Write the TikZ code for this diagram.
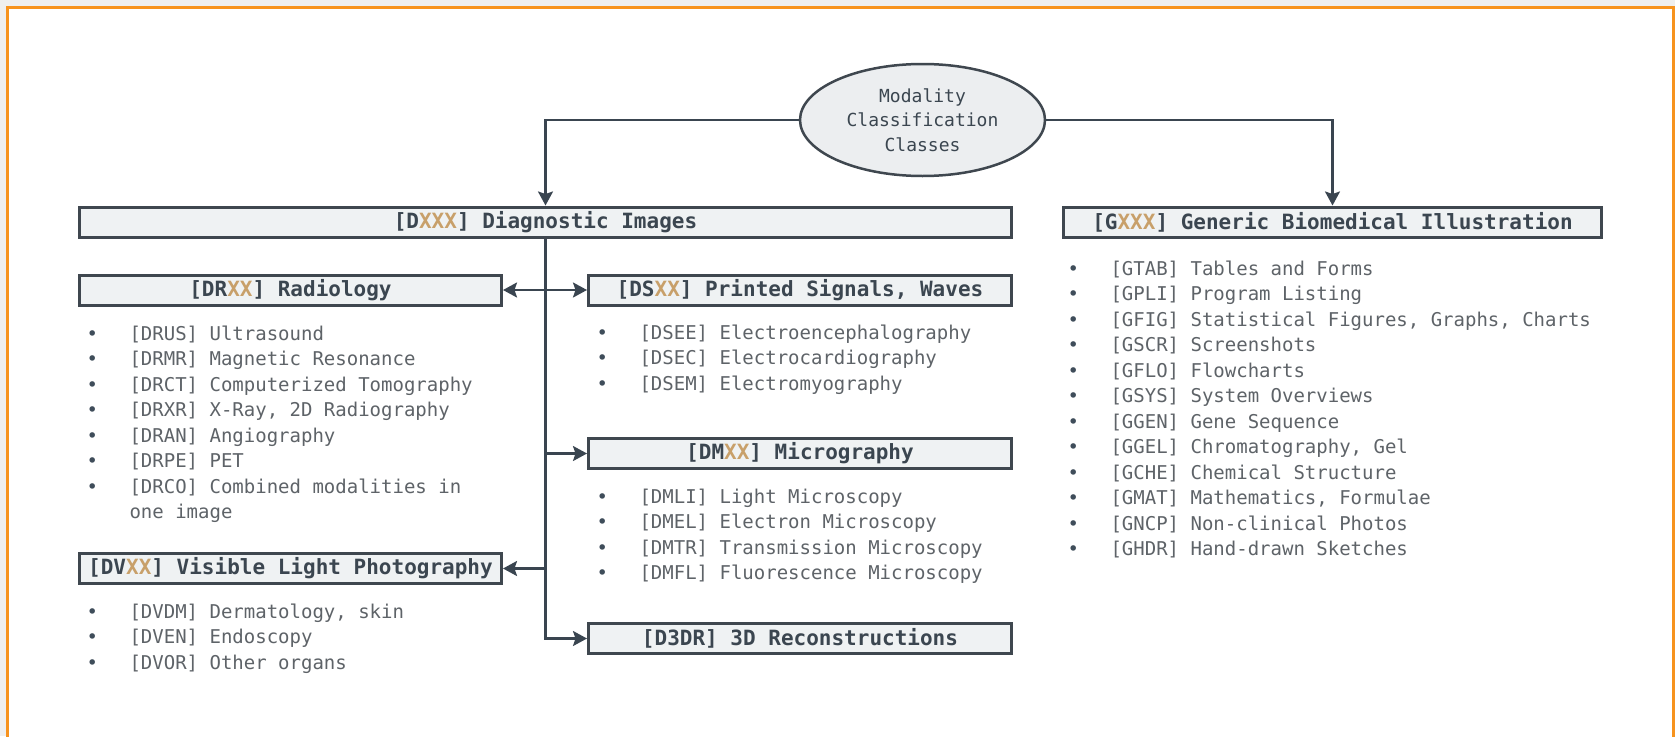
\documentclass[tikz,border=0pt]{standalone}
\usepackage{fontspec}
\setmainfont{DejaVu Sans Mono}
\usepackage{xcolor}
\usepackage{tikz}
\usetikzlibrary{arrows.meta,shapes.geometric}
\definecolor{outside}{HTML}{EFEFEF}
\definecolor{framecol}{HTML}{F7931E}
\definecolor{boxfill}{HTML}{EFF2F3}
\definecolor{boxline}{HTML}{3F474F}
\definecolor{linecol}{HTML}{3A4550}
\definecolor{headtext}{HTML}{3B4650}
\definecolor{xxcol}{HTML}{C8A06A}
\definecolor{itemtext}{HTML}{5E6368}
\definecolor{bul}{HTML}{3F4D5A}
\definecolor{rootfill}{HTML}{ECEEF0}
\newcommand{\xx}[1]{\textcolor{xxcol}{#1}}
\newcommand{\itm}[1]{\strut\makebox[43pt][l]{\textcolor{bul}{\textbullet}}#1}
\tikzset{
  >={Stealth[length=14pt,width=15pt,inset=2.5pt]},
  frame/.style={draw=framecol, line width=3pt, fill=white},
  root/.style={ellipse, draw=boxline, fill=rootfill, line width=2.5pt,
    minimum width=245pt, minimum height=112pt, inner sep=0pt, align=center,
    text=headtext, font=\fontsize{18}{24.6}\selectfont},
  headbox/.style={draw=boxline, fill=boxfill, line width=3pt,
    minimum height=30pt, inner sep=0pt, text=headtext,
    font=\fontsize{21}{25}\selectfont\bfseries},
  itemlist/.style={anchor=north west, align=left, inner sep=0pt,
    text=itemtext, font=\fontsize{19}{25.5}\selectfont},
  link/.style={draw=linecol, line width=2.2pt, ->}
}
\begin{document}
\begin{tikzpicture}[x=1pt,y=-1pt]
  \useasboundingbox (0,0) rectangle (1675,736);
  \fill[outside] (0,0) rectangle (1675,736);
  \draw[frame] (7.5,7.5) rectangle (1673.5,745);

  \node[root] (mcc) at (922.5,120) {Modality\\Classification\\Classes};

  \node[headbox, minimum width=932pt] (diag) at (545.5,222) {[D\xx{XXX}] Diagnostic Images};
  \node[headbox, minimum width=538pt] (gen) at (1332.5,222) {[G\xx{XXX}] Generic Biomedical Illustration};
  \node[headbox, minimum width=422pt] (rad) at (290.5,290) {[DR\xx{XX}] Radiology};
  \node[headbox, minimum width=423pt] (ds) at (800,290) {[DS\xx{XX}] Printed Signals, Waves};
  \node[headbox, minimum width=423pt] (dm) at (800,453.5) {[DM\xx{XX}] Micrography};
  \node[headbox, minimum width=422pt] (dv) at (290.5,568.5) {[DV\xx{XX}] Visible Light Photography};
  \node[headbox, minimum width=423pt] (d3d) at (800,638.5) {[D3DR] 3D Reconstructions};

  % item lists
  \node[itemlist] (radlist) at (86.3,322) {\itm{[DRUS] Ultrasound}\\
    \itm{[DRMR] Magnetic Resonance}\\
    \itm{[DRCT] Computerized Tomography}\\
    \itm{[DRXR] X-Ray, 2D Radiography}\\
    \itm{[DRAN] Angiography}\\
    \itm{[DRPE] PET}\\
    \itm{[DRCO] Combined modalities in}\\
    \strut\hspace*{43pt}one image};
  \node[itemlist] (dslist) at (596.3,321) {\itm{[DSEE] Electroencephalography}\\
    \itm{[DSEC] Electrocardiography}\\
    \itm{[DSEM] Electromyography}};
  \node[itemlist] (dmlist) at (596.3,485) {\itm{[DMLI] Light Microscopy}\\
    \itm{[DMEL] Electron Microscopy}\\
    \itm{[DMTR] Transmission Microscopy}\\
    \itm{[DMFL] Fluorescence Microscopy}};
  \node[itemlist] (dvlist) at (86.3,600) {\itm{[DVDM] Dermatology, skin}\\
    \itm{[DVEN] Endoscopy}\\
    \itm{[DVOR] Other organs}};
  \node[itemlist] (genlist) at (1067.3,257) {\itm{[GTAB] Tables and Forms}\\
    \itm{[GPLI] Program Listing}\\
    \itm{[GFIG] Statistical Figures, Graphs, Charts}\\
    \itm{[GSCR] Screenshots}\\
    \itm{[GFLO] Flowcharts}\\
    \itm{[GSYS] System Overviews}\\
    \itm{[GGEN] Gene Sequence}\\
    \itm{[GGEL] Chromatography, Gel}\\
    \itm{[GCHE] Chemical Structure}\\
    \itm{[GMAT] Mathematics, Formulae}\\
    \itm{[GNCP] Non-clinical Photos}\\
    \itm{[GHDR] Hand-drawn Sketches}};

  % connectors
  \draw[link] (mcc.west) -| (diag.north);
  \draw[link] (mcc.east) -| (gen.north);
  \draw[link] (diag.south) |- (d3d.west);
  \draw[link, <->] (rad.east) -- (ds.west);
  \draw[link] (diag.south |- dm.west) -- (dm.west);
  \draw[link] (diag.south |- dv.east) -- (dv.east);
\end{tikzpicture}
\end{document}
